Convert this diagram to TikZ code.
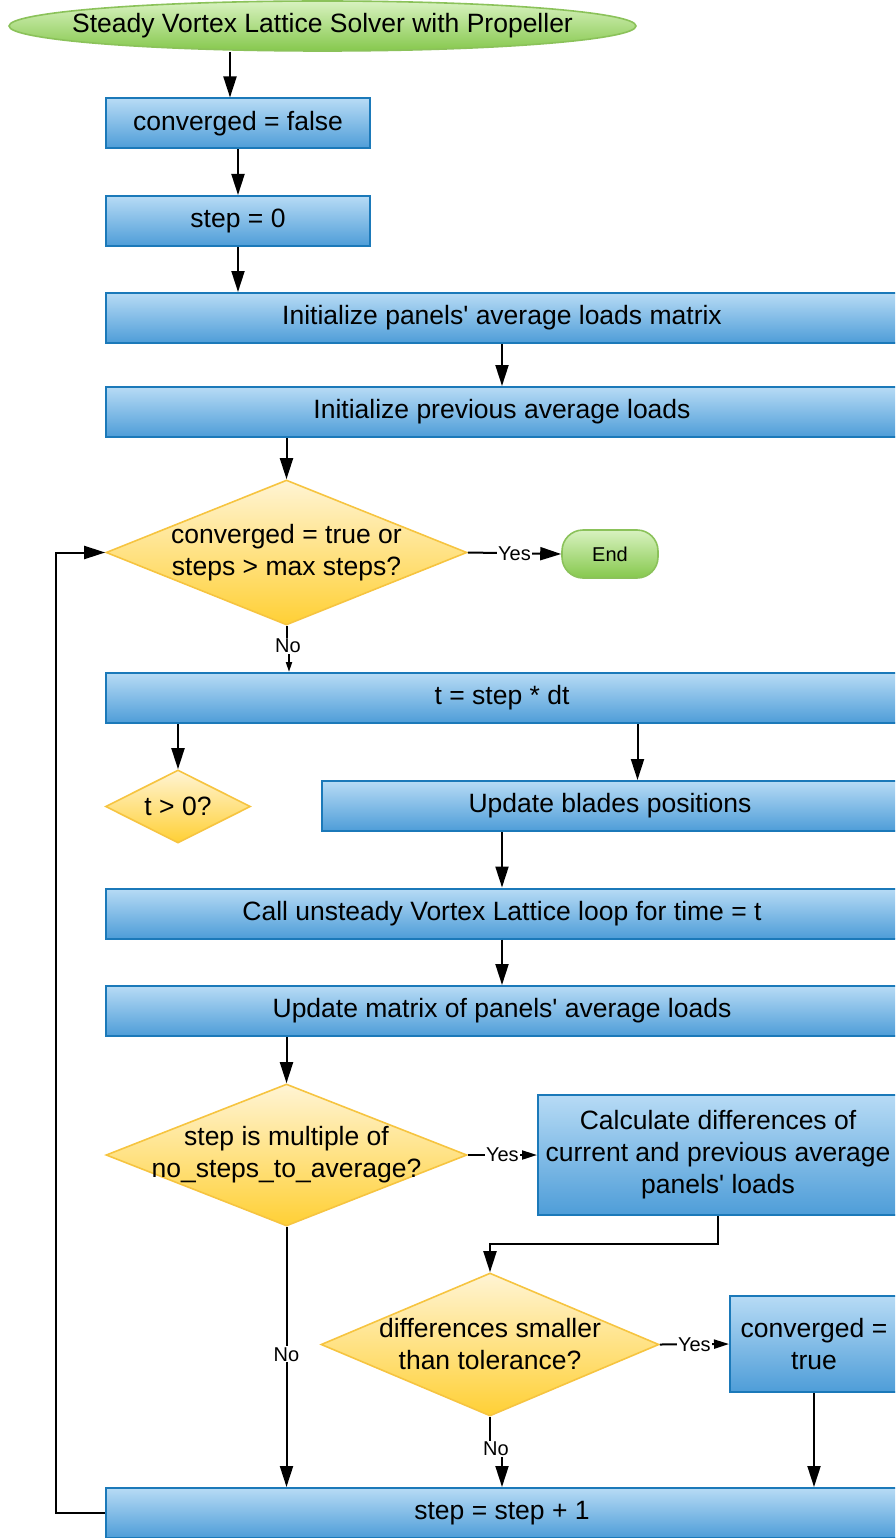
\documentclass[tikz,border=0pt]{standalone}
\usepackage{fontspec}
\setmainfont{Liberation Sans}
\usetikzlibrary{shapes.geometric,arrows.meta}

\definecolor{boxtop}{HTML}{B7DBF5}
\definecolor{boxbot}{HTML}{4E9DD8}
\definecolor{boxline}{HTML}{1B79B9}
\definecolor{dectop}{HTML}{FFF4D4}
\definecolor{decbot}{HTML}{FFD035}
\definecolor{decline}{HTML}{F6C440}
\definecolor{termtop}{HTML}{D8F2C0}
\definecolor{termbot}{HTML}{86C84D}
\definecolor{termline}{HTML}{8BC25A}

% straight apostrophe
\newcommand{\ap}{\textquotesingle}

\tikzset{
  txt/.style={font=\fontsize{26.5}{32}\selectfont, align=center},
  proc/.style={txt, rectangle, inner sep=2pt, line width=2pt, draw=boxline,
    top color=boxtop, bottom color=boxbot, minimum height=50pt},
  dec/.style={diamond, inner sep=0pt, line width=1.6pt, draw=decline,
    top color=dectop, bottom color=decbot},
  term/.style={txt, inner sep=2pt, line width=1.6pt, draw=termline,
    top color=termtop, bottom color=termbot},
  arr/.style={line width=2pt, -{Triangle[length=21pt,width=13pt]}},
  arrs/.style={line width=2pt, -{Triangle[length=15pt,width=9pt]}},
  arrt/.style={line width=2pt, -{Triangle[length=10pt,width=6pt]}},
  lbl/.style={fill=white, font=\fontsize{20}{24}\selectfont, inner sep=1pt},
}

\begin{document}
\begin{tikzpicture}[x=1pt,y=-1pt]
\useasboundingbox (0,0) rectangle (895,1538);
\clip (0,0) rectangle (895,1538);

% terminals
\node[term, ellipse, inner sep=0pt, minimum width=627pt, minimum height=50pt,
  label={[txt]center:{Steady Vortex Lattice Solver with Propeller}}] (start) at (322.5,26) {};
\node[term, rectangle, rounded corners=21pt, minimum width=96pt, minimum height=48pt,
  font=\fontsize{20}{24}\selectfont] (end) at (610,554) {End};

% initialisation
\node[proc, minimum width=264pt] (cf) at (238,123.5) {converged = false};
\node[proc, minimum width=264pt] (s0) at (238,221) {step = 0};
\node[proc, minimum width=792pt] (im) at (502,318) {Initialize panels\ap{} average loads matrix};
\node[proc, minimum width=792pt] (ip) at (502,412) {Initialize previous average loads};

% main loop
\node[dec, minimum width=361pt, minimum height=145pt,
  label={[txt]center:{converged = true or\\steps > max steps?}}] (d1) at (286.5,552.5) {};
\node[proc, minimum width=792pt] (t) at (502,698) {t = step * dt};
\node[dec, minimum width=145pt, minimum height=73pt,
  label={[txt]center:{t > 0?}}] (tq) at (178,806.5) {};
\node[proc, minimum width=576pt] (ub) at (610,806) {Update blades positions};
\node[proc, minimum width=792pt] (call) at (502,913.5) {Call unsteady Vortex Lattice loop for time = t};
\node[proc, minimum width=792pt] (um) at (502,1011) {Update matrix of panels\ap{} average loads};
\node[dec, minimum width=361pt, minimum height=142pt,
  label={[txt]center:{step is multiple of\\no\_steps\_to\_average?}}] (d2) at (286.5,1155) {};
\node[proc, minimum width=360pt, minimum height=120pt] (calc) at (718,1155)
  {Calculate differences of\\current and previous average\\panels\ap{} loads};
\node[dec, minimum width=338pt, minimum height=143pt,
  label={[txt]center:{differences smaller\\than tolerance?}}] (d3) at (490,1344.5) {};
\node[proc, minimum width=168pt, minimum height=96pt] (ct) at (814,1344) {converged =\\true};
\node[proc, minimum width=792pt] (s1) at (502,1513) {step = step + 1};

% connectors
\draw[arr] ([xshift=-8pt]cf.north |- start.south) -- ([xshift=-8pt]cf.north);
\draw[arr] (cf.south) -- (s0.north);
\draw[arr] (s0.south) -- (s0.south |- im.north);
\draw[arr] (im.south) -- (ip.north);
\draw[arr] (d1.north |- ip.south) -- (d1.north);
\draw[arr] (d1.east) -- (end.west) node[lbl, midway] {Yes};
\draw[arrt] (d1.south) -- ++(0,21) -| ([xshift=2.5pt]d1.south |- t.north);
\node[lbl] (no1) at (288,646) {No};
\draw[arr] (tq.north |- t.south) -- (tq.north);
\draw[arr] ([xshift=27.5pt]ub.north |- t.south) -- ([xshift=27.5pt]ub.north);
\draw[arr] (call.north |- ub.south) -- (call.north);
\draw[arr] (call.south) -- (um.north);
\draw[arr] (d2.north |- um.south) -- (d2.north);
\draw[arrs] (d2.east) -- (calc.west) node[lbl, midway] {Yes};
\draw[arr] (d2.south) -- (d2.south |- s1.north) node[lbl, pos=0.49] {No};
\draw[arr] (calc.south) -- ++(0,28) -| (d3.north);
\draw[arrs] (d3.east) -- (ct.west) node[lbl, midway] {Yes};
\draw[arr] (d3.south) -- ++(0,34) -| (s1.north);
\node[lbl] (no3) at (496,1449) {No};
\draw[arr] (ct.south) -- (ct.south |- s1.north);
\draw[arr] (s1.west) -- ++(-49,0) |- (d1.west);
\end{tikzpicture}
\end{document}
